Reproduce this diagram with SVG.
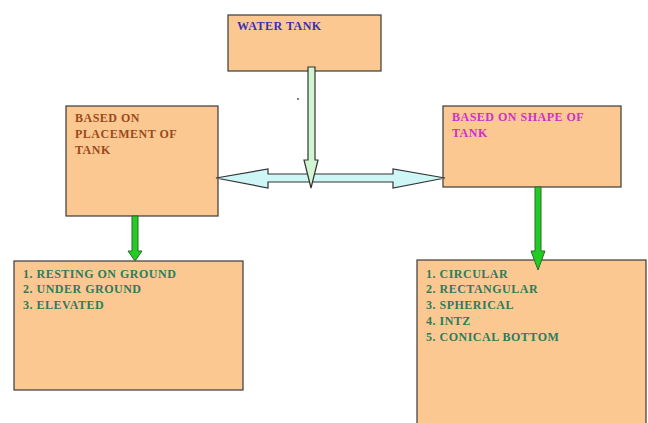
<svg xmlns="http://www.w3.org/2000/svg" width="648" height="423" viewBox="0 0 648 423">
<style>
.box{fill:#fcc891;stroke:#3a3a3a;stroke-width:1.2}
text{font-family:"Liberation Serif","Times New Roman",serif;font-weight:bold;font-size:12px;letter-spacing:0.5px}
.t1{fill:#3a2fb5}
.t2{fill:#9a4a1c}
.t3{fill:#d030c8}
.t4{fill:#2f7a5c}
.ga{fill:#22cc22;stroke:#2a6a2a;stroke-width:1}
.la{fill:#d2f5d2;stroke:#333;stroke-width:1.2}
.ca{fill:#cff6f6;stroke:#333;stroke-width:1.2}
</style>
<rect width="648" height="423" fill="#ffffff"/>
<g id="water-tank">
<rect class="box" x="228" y="15" width="153" height="56"/>
<text class="t1" x="237" y="30">WATER TANK</text>
</g>
<g id="placement">
<rect class="box" x="66" y="106" width="152" height="110"/>
<text class="t2" x="75" y="122">BASED ON</text>
<text class="t2" x="75" y="138">PLACEMENT OF</text>
<text class="t2" x="75" y="154">TANK</text>
</g>
<g id="shape">
<rect class="box" x="443" y="106" width="178" height="81"/>
<text class="t3" x="452" y="121">BASED ON SHAPE OF</text>
<text class="t3" x="452" y="137">TANK</text>
</g>
<g id="placement-list">
<rect class="box" x="14" y="261" width="229" height="129"/>
<text class="t4" x="23" y="278">1. RESTING ON GROUND</text>
<text class="t4" x="23" y="293">2. UNDER GROUND</text>
<text class="t4" x="23" y="309">3. ELEVATED</text>
</g>
<g id="shape-list">
<rect class="box" x="417" y="260" width="229" height="170"/>
<text class="t4" x="426" y="278">1. CIRCULAR</text>
<text class="t4" x="426" y="293">2. RECTANGULAR</text>
<text class="t4" x="426" y="309">3. SPHERICAL</text>
<text class="t4" x="426" y="325">4. INTZ</text>
<text class="t4" x="426" y="341">5. CONICAL BOTTOM</text>
</g>
<g id="connectors">
<path class="ca" d="M216,178 L268,169 L268,174 L393,174 L393,169 L445,178 L393,188 L393,182 L268,182 L268,188 Z"/>
<path class="la" d="M308,67 L315,67 L315,160 L318,160 L311,188 L304,160 L308,160 Z"/>
<path class="ga" d="M132,216 L138,216 L138,251 L142,251 L135,261 L128,251 L132,251 Z"/>
<path class="ga" d="M535,187 L541,187 L541,251 L545,251 L538,270 L531,251 L535,251 Z"/>
<circle cx="298" cy="99" r="0.9" fill="#444"/>
</g>
</svg>
